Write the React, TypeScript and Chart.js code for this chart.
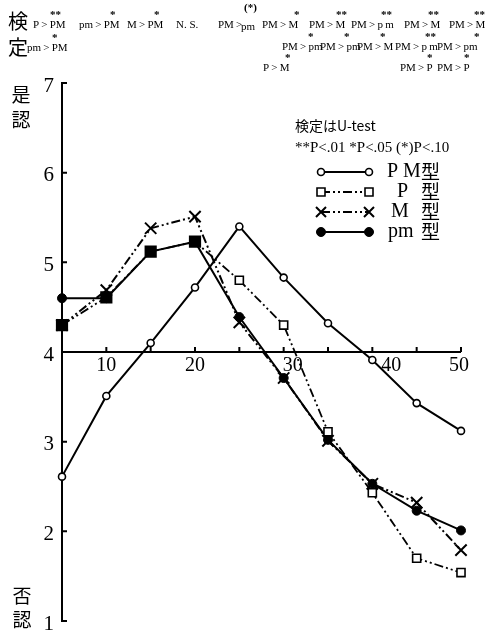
import { useEffect, useRef } from 'react';
import { Chart, registerables } from 'chart.js';

Chart.register(...registerables);

// ---- data ----
const xValues = [5, 10, 15, 20, 25, 30, 35, 40, 45, 50];
const pmTypeValues = [2.61, 3.51, 4.1, 4.72, 5.4, 4.83, 4.32, 3.91, 3.43, 3.12]; // PM型
const pTypeValues = [4.3, 4.61, 5.12, 5.23, 4.8, 4.3, 3.11, 2.43, 1.7, 1.54]; // P 型
const mTypeValues = [4.3, 4.69, 5.38, 5.51, 4.33, 3.71, 3.01, 2.53, 2.32, 1.79]; // M 型
const smallPmValues = [4.6, 4.6, 5.12, 5.23, 4.39, 3.71, 3.02, 2.53, 2.23, 2.01]; // pm型
const xTickMarks = [10, 15, 20, 25, 30, 35, 40, 45, 50];
const xTickLabels = [10, 20, 30, 40, 50];
const yTickValues = [1, 2, 3, 4, 5, 6, 7];
const seriesNames = ['PM型', 'P 型', 'M 型', 'pm型'];

const SERIF = "'Liberation Serif', 'DejaVu Serif', serif";
const CJK = "'Noto Sans CJK JP', sans-serif";

const toPoints = (vals: number[]) => vals.map((y, i) => ({ x: xValues[i], y }));

// where P and pm coincide the reference shows solid squares
const pFill = pTypeValues.map((_, i) => (i <= 3 ? '#000' : '#fff'));
const pRadius = pTypeValues.map((_, i) => (i <= 3 ? 7.5 : 5.7));

const S = '\u2009';
type Seg = [string, number, number];
const annotText: Seg[] = [
  [`P${S}>${S}PM`, 33, 25], [`pm${S}>${S}PM`, 79, 25], [`M${S}>${S}PM`, 127, 25], ['N. S.', 176, 25],
  [`PM${S}>`, 218, 25], ['pm', 241, 27],
  [`PM${S}>${S}M`, 262, 25], [`PM${S}>${S}M`, 309, 25], [`PM${S}>${S}p${S}m`, 351, 25], [`PM${S}>${S}M`, 404, 25], [`PM${S}>${S}M`, 449, 25],
  [`pm${S}>${S}PM`, 27, 48],
  [`PM${S}>${S}pm`, 282, 47], [`PM${S}>${S}pm`, 320, 47], [`PM${S}>${S}M`, 357, 47], [`PM${S}>${S}p${S}m`, 395, 47], [`PM${S}>${S}pm`, 437, 47],
  [`P${S}>${S}M`, 263, 68], [`PM${S}>${S}P`, 400, 68], [`PM${S}>${S}P`, 437, 68],
];
const annotStars: Seg[] = [
  ['**', 50, 15], ['*', 110, 15], ['*', 154, 15], ['(*)', 244, 8],
  ['*', 294, 15], ['**', 336, 15], ['**', 381, 15], ['**', 428, 15], ['**', 474, 15],
  ['*', 52, 38],
  ['*', 308, 37], ['*', 344, 37], ['*', 380, 37], ['**', 425, 37], ['*', 474, 37],
  ['*', 285, 58], ['*', 427, 58], ['*', 464, 58],
];

const decorPlugin = {
  id: 'decor',
  beforeDatasetsDraw(chart: any) {
    const ctx: CanvasRenderingContext2D = chart.ctx;
    const xs = chart.scales.x;
    const ys = chart.scales.y;
    ctx.save();
    ctx.strokeStyle = '#000';
    ctx.fillStyle = '#000';
    ctx.lineWidth = 2;
    const x0 = xs.getPixelForValue(5);
    const x1 = xs.getPixelForValue(50);
    const y4 = ys.getPixelForValue(4);
    ctx.beginPath();
    ctx.moveTo(x0, ys.getPixelForValue(7) - 1);
    ctx.lineTo(x0, ys.getPixelForValue(1) + 1);
    for (const v of yTickValues) {
      const py = ys.getPixelForValue(v);
      ctx.moveTo(x0, py);
      ctx.lineTo(x0 + 5, py);
    }
    ctx.moveTo(x0, y4);
    ctx.lineTo(x1, y4);
    for (const v of xTickMarks) {
      const px = xs.getPixelForValue(v);
      ctx.moveTo(px, y4);
      ctx.lineTo(px, y4 - 5);
    }
    ctx.stroke();

    // y tick labels
    ctx.font = `21px ${SERIF}`;
    ctx.textAlign = 'right';
    ctx.textBaseline = 'middle';
    for (const v of yTickValues) {
      ctx.fillText(String(v), x0 - 8, ys.getPixelForValue(v) + 3);
    }
    // x tick labels
    const shift = [0, 0, 9, 19, -2];
    ctx.textAlign = 'center';
    ctx.font = `20px ${SERIF}`;
    xTickLabels.forEach((v, i) => {
      ctx.fillText(String(v), xs.getPixelForValue(v) + shift[i], y4 + 14);
    });

    // axis titles
    ctx.font = `19px ${CJK}`;
    ctx.fillText('是', 21, 95);
    ctx.fillText('認', 21, 120);
    ctx.fillText('否', 22, 596);
    ctx.fillText('認', 22, 620);
    ctx.font = `20px ${CJK}`;
    ctx.fillText('検', 18, 21);
    ctx.fillText('定', 18, 47);
    ctx.restore();
  },
  afterDatasetsDraw(chart: any) {
    const ctx: CanvasRenderingContext2D = chart.ctx;
    ctx.save();
    ctx.fillStyle = '#000';
    ctx.strokeStyle = '#000';
    ctx.textBaseline = 'middle';
    ctx.textAlign = 'left';
    ctx.font = `11px ${SERIF}`;
    for (const [t, x, y] of annotText) ctx.fillText(t, x, y);
    ctx.font = `bold 11px ${SERIF}`;
    for (const [t, x, y] of annotStars) ctx.fillText(t, x, y);

    // legend header
    ctx.font = `14px ${CJK}`;
    ctx.fillText('検定はU-test', 295, 126);
    ctx.font = `15px ${SERIF}`;
    ctx.fillText('**P<.01 *P<.05 (*)P<.10', 295, 148);

    // legend entries
    const ds = chart.data.datasets;
    const rowsY = [172, 192, 212, 232];
    const lx0 = 321, lx1 = 369;
    ds.forEach((d: any, i: number) => {
      const y = rowsY[i];
      ctx.save();
      ctx.lineWidth = 2;
      ctx.setLineDash(d.borderDash || []);
      ctx.beginPath();
      ctx.moveTo(lx0, y);
      ctx.lineTo(lx1, y);
      ctx.stroke();
      ctx.restore();
      const bg = Array.isArray(d.pointBackgroundColor) ? '#fff' : d.pointBackgroundColor;
      for (const px of [lx0, lx1]) {
        ctx.save();
        ctx.fillStyle = bg;
        ctx.strokeStyle = '#000';
        ctx.lineWidth = d.pointBorderWidth;
        ctx.beginPath();
        if (d.pointStyle === 'circle') {
          ctx.arc(px, y, d.pointRadius, 0, Math.PI * 2);
          ctx.fill();
          ctx.stroke();
        } else if (d.pointStyle === 'rect') {
          const r = 4;
          ctx.rect(px - r, y - r, 2 * r, 2 * r);
          ctx.fill();
          ctx.stroke();
        } else {
          const r = 5;
          ctx.moveTo(px - r, y - r); ctx.lineTo(px + r, y + r);
          ctx.moveTo(px - r, y + r); ctx.lineTo(px + r, y - r);
          ctx.stroke();
        }
        ctx.restore();
      }
    });
    ctx.font = `20px ${SERIF}`;
    ctx.fillText('P', 387, rowsY[0]);
    ctx.fillText('M', 403, rowsY[0]);
    ctx.fillText('P', 397, rowsY[1]);
    ctx.fillText('M', 391, rowsY[2]);
    ctx.fillText('pm', 388, rowsY[3]);
    ctx.font = `19px ${CJK}`;
    for (let i = 0; i < 4; i++) ctx.fillText(seriesNames[i].slice(-1), 421, rowsY[i]);
    ctx.restore();
  },
};

export default function App() {
  const ref = useRef<HTMLCanvasElement | null>(null);
  useEffect(() => {
    if (!ref.current) return;
    const chart = new Chart(ref.current, {
      type: 'line',
      data: {
        datasets: [
          {
            label: seriesNames[0], data: toPoints(pmTypeValues), order: 3,
            borderColor: '#000', borderWidth: 2, pointStyle: 'circle', pointRadius: 3.5,
            pointBackgroundColor: '#fff', pointBorderColor: '#000', pointBorderWidth: 1.6, clip: false,
          },
          {
            label: seriesNames[1], data: toPoints(pTypeValues), order: 0,
            borderColor: '#000', borderWidth: 1.8, borderDash: [9, 3, 2, 3, 2, 3], pointStyle: 'rect', pointRadius: pRadius,
            pointBackgroundColor: pFill, pointBorderColor: '#000', pointBorderWidth: 1.6, clip: false,
          },
          {
            label: seriesNames[2], data: toPoints(mTypeValues), order: 2,
            borderColor: '#000', borderWidth: 2, borderDash: [9, 3, 2, 3, 2, 3], pointStyle: 'crossRot', pointRadius: 8,
            pointBackgroundColor: '#000', pointBorderColor: '#000', pointBorderWidth: 2, clip: false,
          },
          {
            label: seriesNames[3], data: toPoints(smallPmValues), order: 1,
            borderColor: '#000', borderWidth: 2, pointStyle: 'circle', pointRadius: 4.5,
            pointBackgroundColor: '#000', pointBorderColor: '#000', pointBorderWidth: 1, clip: false,
          },
        ] as any,
      },
      options: {
        animation: false,
        responsive: false,
        events: [],
        layout: { padding: { left: 62, right: 42, top: 83, bottom: 12 } },
        scales: {
          x: { type: 'linear', min: 5, max: 50, display: false },
          y: { type: 'linear', min: 1, max: 7, display: false },
        },
        plugins: { legend: { display: false }, tooltip: { enabled: false } },
      },
      plugins: [decorPlugin],
    });
    return () => chart.destroy();
  }, []);
  return (
    <div style={{ position: 'absolute', left: 0, top: 0, width: 503, height: 633, background: '#fff' }}>
      <canvas ref={ref} width={503} height={633} />
    </div>
  );
}
